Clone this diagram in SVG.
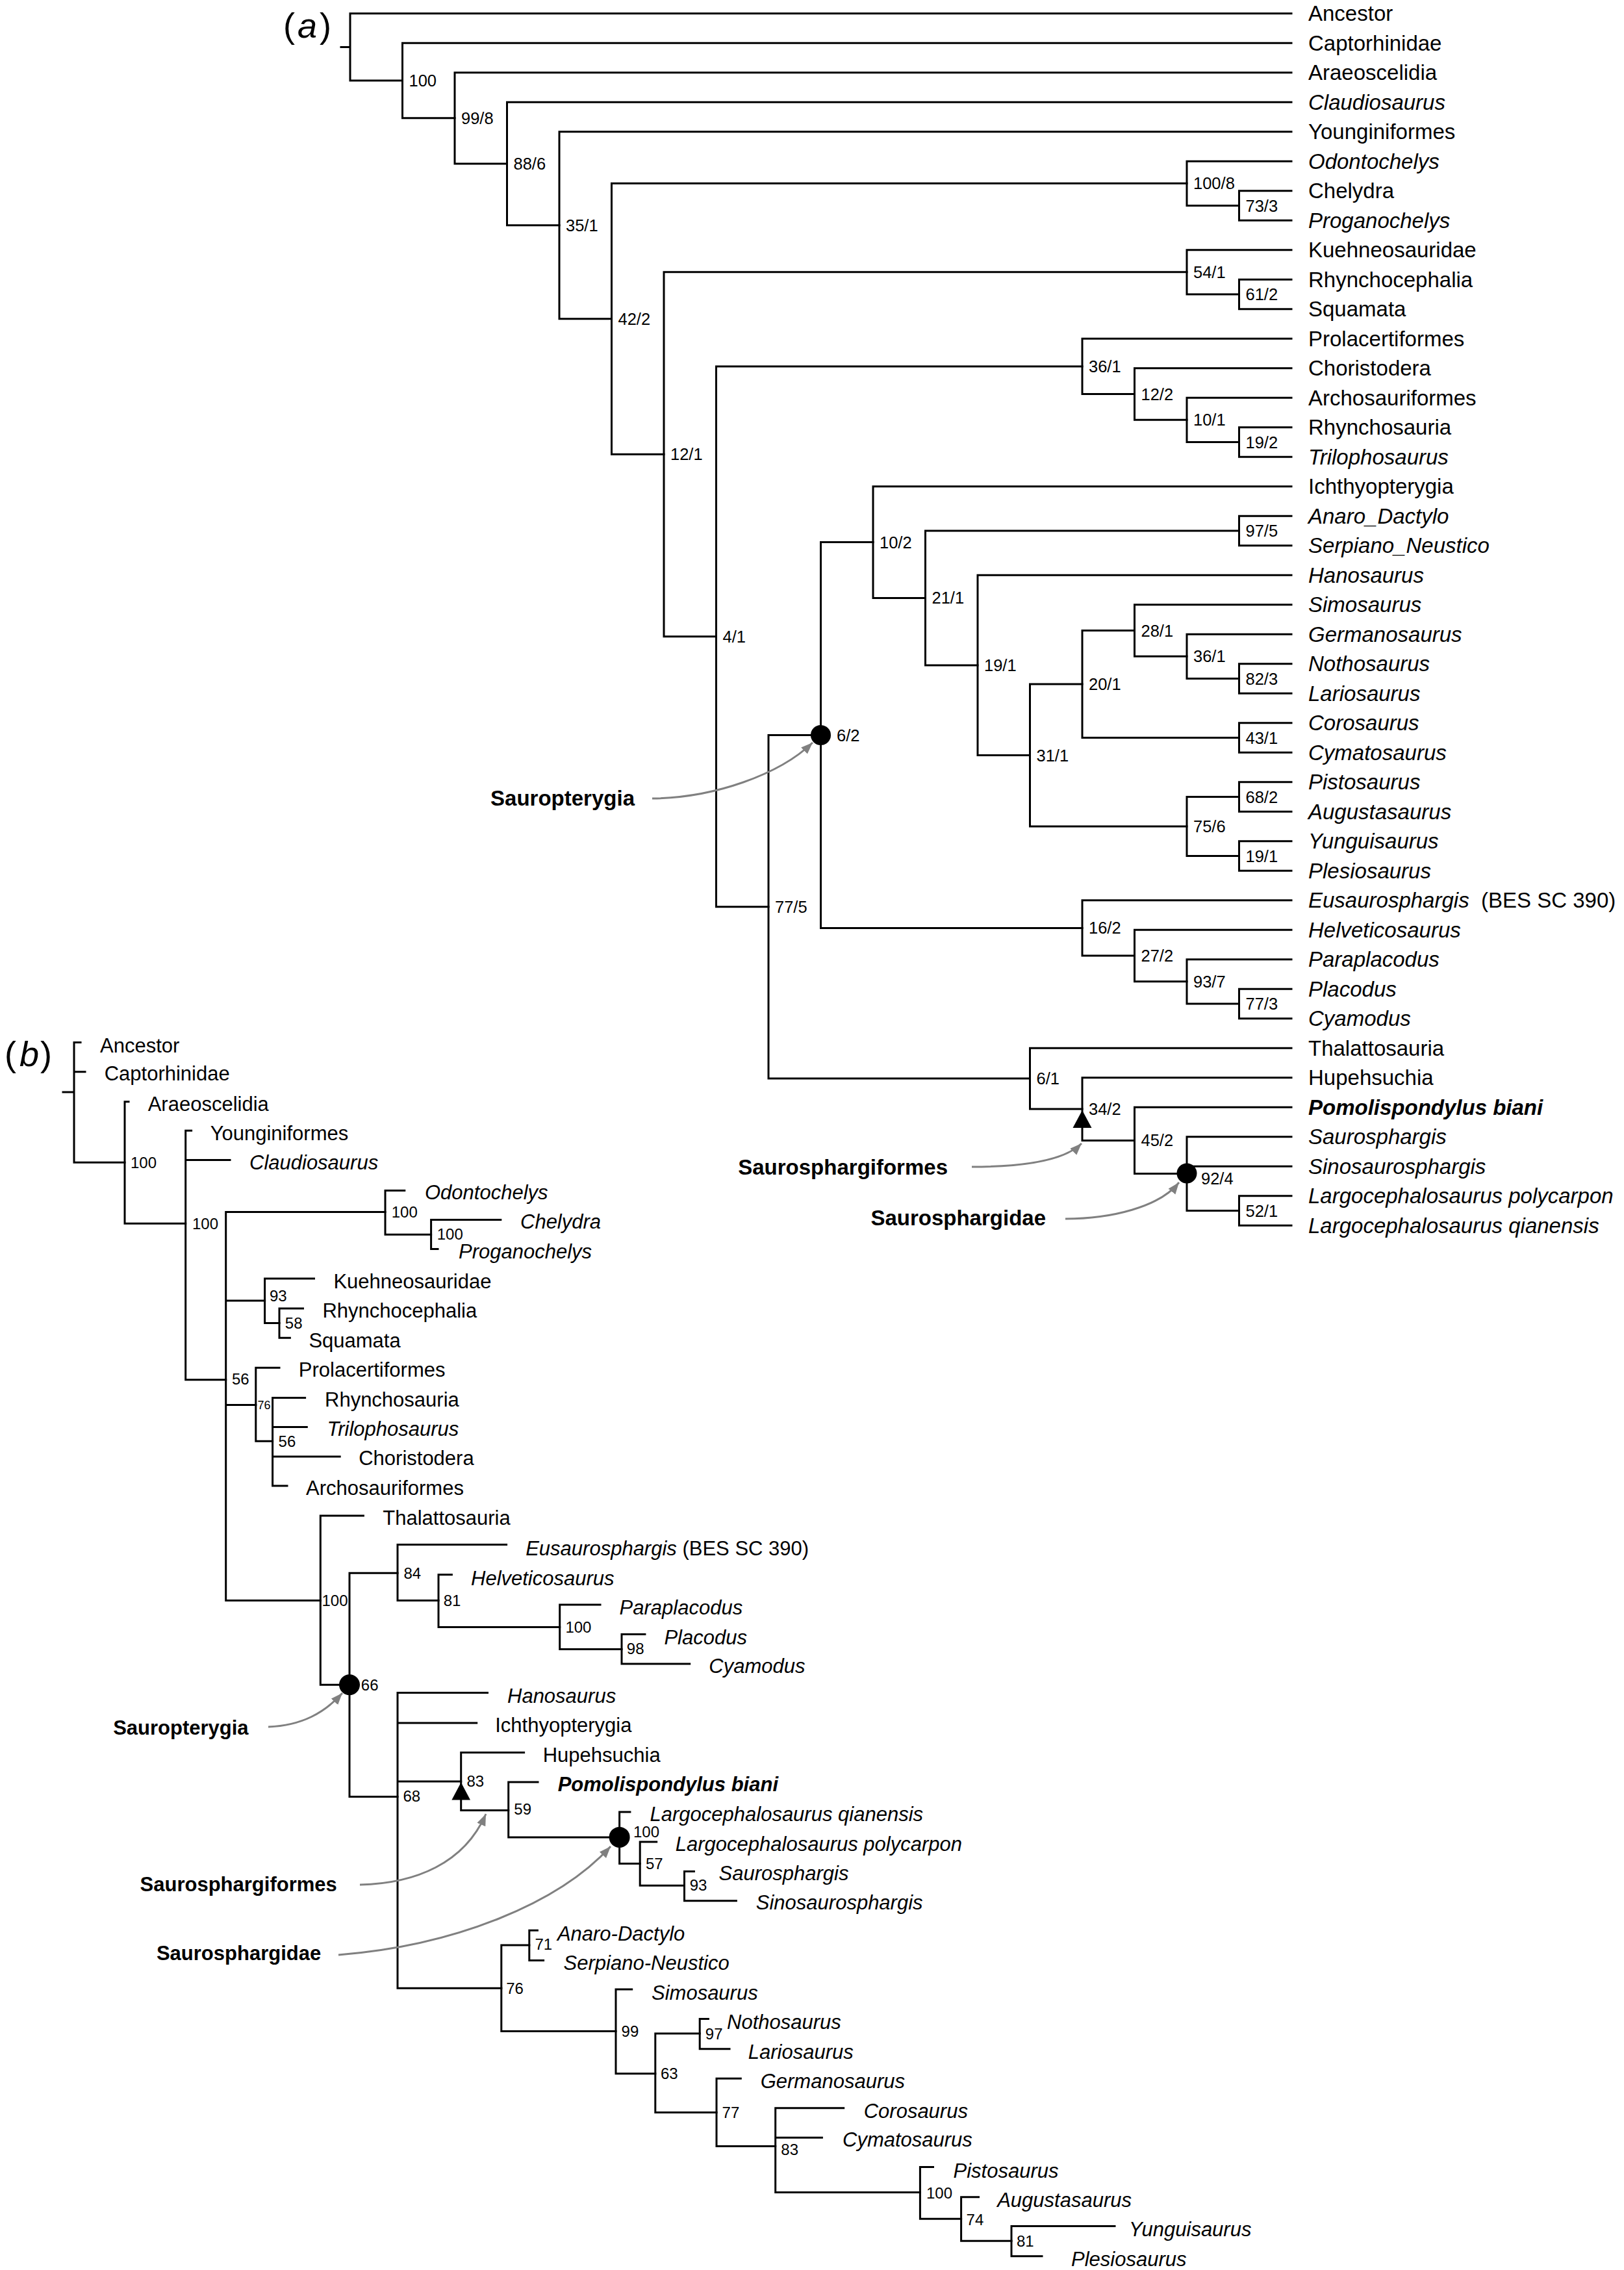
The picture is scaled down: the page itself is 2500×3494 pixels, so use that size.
<svg xmlns="http://www.w3.org/2000/svg" width="2500" height="3494" viewBox="0 0 2500 3494">
<style>
.ln{stroke:#000;stroke-width:3;fill:none;stroke-linecap:square}
.ar{stroke:#808080;stroke-width:3;fill:none}
text{font-family:"Liberation Sans",Arial,sans-serif;fill:#000}
.la{font-size:33px}
.lb{font-size:31px}
.it{font-style:italic}
.na{font-size:25.5px}
.nb{font-size:24px}
.cl{font-weight:bold}
.pl{font-size:54px}
</style>
<defs>
<marker id="ah" markerUnits="userSpaceOnUse" markerWidth="20" markerHeight="16" refX="18" refY="7" orient="auto"><path d="M0,0 L18,7 L0,14 z" fill="#808080"/></marker>
</defs>
<rect width="2500" height="3494" fill="#fff"/>

<g id="panel-labels">
<text class="pl" x="436" y="58">(<tspan x="458" font-style="italic">a</tspan><tspan x="492">)</tspan></text>
<text class="pl" x="7" y="1641">(<tspan x="30" font-style="italic">b</tspan><tspan x="62">)</tspan></text>
</g>

<g id="connectors-a">
<path class="ln" d="M525,72.4 H539 M539,20.7 V124 M539,20.7 H1988 M539,124 H619.5"/>
<path class="ln" d="M619.5,66.2 V181.8 M619.5,66.2 H1988 M619.5,181.8 H700"/>
<path class="ln" d="M700,111.7 V252 M700,111.7 H1988 M700,252 H780.5"/>
<path class="ln" d="M780.5,157.2 V346.8 M780.5,157.2 H1988 M780.5,346.8 H861"/>
<path class="ln" d="M861,202.7 V490.8 M861,202.7 H1988 M861,490.8 H941.5"/>
<path class="ln" d="M941.5,282.3 V699.3 M941.5,282.3 H1827 M941.5,699.3 H1022"/>
<path class="ln" d="M1827,248.2 V316.5 M1827,248.2 H1988 M1827,316.5 H1907.5"/>
<path class="ln" d="M1907.5,293.7 V339.2 M1907.5,293.7 H1988 M1907.5,339.2 H1988"/>
<path class="ln" d="M1022,418.8 V979.8 M1022,418.8 H1827 M1022,979.8 H1102.5"/>
<path class="ln" d="M1827,384.7 V453 M1827,384.7 H1988 M1827,453 H1907.5"/>
<path class="ln" d="M1907.5,430.2 V475.7 M1907.5,430.2 H1988 M1907.5,475.7 H1988"/>
<path class="ln" d="M1102.5,563.9 V1395.8 M1102.5,563.9 H1666 M1102.5,1395.8 H1183"/>
<path class="ln" d="M1666,521.2 V606.5 M1666,521.2 H1988 M1666,606.5 H1746.5"/>
<path class="ln" d="M1746.5,566.7 V646.3 M1746.5,566.7 H1988 M1746.5,646.3 H1827"/>
<path class="ln" d="M1827,612.2 V680.5 M1827,612.2 H1988 M1827,680.5 H1907.5"/>
<path class="ln" d="M1907.5,657.7 V703.2 M1907.5,657.7 H1988 M1907.5,703.2 H1988"/>
<path class="ln" d="M1183,1131.5 V1660.1 M1183,1131.5 H1263.5 M1183,1660.1 H1585.5"/>
<path class="ln" d="M1263.5,834.6 V1428.4 M1263.5,834.6 H1344 M1263.5,1428.4 H1666"/>
<path class="ln" d="M1344,748.7 V920.4 M1344,748.7 H1988 M1344,920.4 H1424.5"/>
<path class="ln" d="M1424.5,817 V1023.9 M1424.5,817 H1907.5 M1424.5,1023.9 H1505"/>
<path class="ln" d="M1907.5,794.2 V839.7 M1907.5,794.2 H1988 M1907.5,839.7 H1988"/>
<path class="ln" d="M1505,885.2 V1162.5 M1505,885.2 H1988 M1505,1162.5 H1585.5"/>
<path class="ln" d="M1585.5,1053 V1272 M1585.5,1053 H1666 M1585.5,1272 H1827"/>
<path class="ln" d="M1666,970.5 V1135.5 M1666,970.5 H1746.5 M1666,1135.5 H1907.5"/>
<path class="ln" d="M1746.5,930.7 V1010.3 M1746.5,930.7 H1988 M1746.5,1010.3 H1827"/>
<path class="ln" d="M1827,976.2 V1044.5 M1827,976.2 H1988 M1827,1044.5 H1907.5"/>
<path class="ln" d="M1907.5,1021.7 V1067.2 M1907.5,1021.7 H1988 M1907.5,1067.2 H1988"/>
<path class="ln" d="M1907.5,1112.7 V1158.2 M1907.5,1112.7 H1988 M1907.5,1158.2 H1988"/>
<path class="ln" d="M1827,1226.5 V1317.5 M1827,1226.5 H1907.5 M1827,1317.5 H1907.5"/>
<path class="ln" d="M1907.5,1203.7 V1249.2 M1907.5,1203.7 H1988 M1907.5,1249.2 H1988"/>
<path class="ln" d="M1907.5,1294.7 V1340.2 M1907.5,1294.7 H1988 M1907.5,1340.2 H1988"/>
<path class="ln" d="M1666,1385.7 V1471 M1666,1385.7 H1988 M1666,1471 H1746.5"/>
<path class="ln" d="M1746.5,1431.2 V1510.8 M1746.5,1431.2 H1988 M1746.5,1510.8 H1827"/>
<path class="ln" d="M1827,1476.7 V1545 M1827,1476.7 H1988 M1827,1545 H1907.5"/>
<path class="ln" d="M1907.5,1522.2 V1567.7 M1907.5,1522.2 H1988 M1907.5,1567.7 H1988"/>
<path class="ln" d="M1585.5,1613.2 V1707 M1585.5,1613.2 H1988 M1585.5,1707 H1666"/>
<path class="ln" d="M1666,1658.7 V1755.4 M1666,1658.7 H1988 M1666,1755.4 H1746.5"/>
<path class="ln" d="M1746.5,1704.2 V1806.6 M1746.5,1704.2 H1988 M1746.5,1806.6 H1827"/>
<path class="ln" d="M1827,1749.7 V1863.5 M1827,1749.7 H1988 M1827,1795.2 H1988 M1827,1863.5 H1907.5"/>
<path class="ln" d="M1907.5,1840.7 V1886.2 M1907.5,1840.7 H1988 M1907.5,1886.2 H1988"/>
<path class="ar" marker-end="url(#ah)" d="M1004,1229 C1100,1228 1200,1192 1251,1143"/>
<path class="ar" marker-end="url(#ah)" d="M1496,1796 C1580,1796 1640,1785 1665,1760"/>
<path class="ar" marker-end="url(#ah)" d="M1640,1876 C1710,1876 1785,1858 1815,1820"/>
</g>

<g id="nodes-a-internal">
<g id="a-n100"><text class="na" x="629.5" y="133">100</text></g>
<g id="a-n99-8"><text class="na" x="710" y="190.8">99/8</text></g>
<g id="a-n88-6"><text class="na" x="790.5" y="261">88/6</text></g>
<g id="a-n35-1"><text class="na" x="871" y="355.8">35/1</text></g>
<g id="a-n42-2"><text class="na" x="951.5" y="499.8">42/2</text></g>
<g id="a-n12-1"><text class="na" x="1032" y="708.3">12/1</text></g>
<g id="a-n4-1"><text class="na" x="1112.5" y="988.8">4/1</text></g>
<g id="a-n77-5"><text class="na" x="1193" y="1404.8">77/5</text></g>
<g id="a-n6-2"><circle cx="1263.5" cy="1131.5" r="15.5"/><text class="na" x="1288" y="1140.5">6/2</text></g>
<g id="a-n10-2"><text class="na" x="1354" y="843.6">10/2</text></g>
<g id="a-n21-1"><text class="na" x="1434.5" y="929.4">21/1</text></g>
<g id="a-n19-1"><text class="na" x="1515" y="1032.9">19/1</text></g>
<g id="a-n31-1"><text class="na" x="1595.5" y="1171.5">31/1</text></g>
<g id="a-n20-1"><text class="na" x="1676" y="1062">20/1</text></g>
<g id="a-n28-1"><text class="na" x="1756.5" y="979.5">28/1</text></g>
<g id="a-n36-1b"><text class="na" x="1837" y="1019.3">36/1</text></g>
<g id="a-n82-3"><text class="na" x="1917.5" y="1053.5">82/3</text></g>
<g id="a-n43-1"><text class="na" x="1917.5" y="1144.5">43/1</text></g>
<g id="a-n75-6"><text class="na" x="1837" y="1281">75/6</text></g>
<g id="a-n68-2"><text class="na" x="1917.5" y="1235.5">68/2</text></g>
<g id="a-n19-1b"><text class="na" x="1917.5" y="1326.5">19/1</text></g>
<g id="a-n97-5"><text class="na" x="1917.5" y="826">97/5</text></g>
<g id="a-n100-8"><text class="na" x="1837" y="291.3">100/8</text></g>
<g id="a-n73-3"><text class="na" x="1917.5" y="325.5">73/3</text></g>
<g id="a-n54-1"><text class="na" x="1837" y="427.8">54/1</text></g>
<g id="a-n61-2"><text class="na" x="1917.5" y="462">61/2</text></g>
<g id="a-n36-1"><text class="na" x="1676" y="572.9">36/1</text></g>
<g id="a-n12-2"><text class="na" x="1756.5" y="615.5">12/2</text></g>
<g id="a-n10-1"><text class="na" x="1837" y="655.3">10/1</text></g>
<g id="a-n19-2"><text class="na" x="1917.5" y="689.5">19/2</text></g>
<g id="a-n16-2"><text class="na" x="1676" y="1437.4">16/2</text></g>
<g id="a-n27-2"><text class="na" x="1756.5" y="1480">27/2</text></g>
<g id="a-n93-7"><text class="na" x="1837" y="1519.8">93/7</text></g>
<g id="a-n77-3"><text class="na" x="1917.5" y="1554">77/3</text></g>
<g id="a-n6-1"><text class="na" x="1595.5" y="1669.1">6/1</text></g>
<g id="a-n34-2"><path d="M1666,1709 L1680.5,1736 L1651.5,1736 Z" fill="#000"/><text class="na" x="1676" y="1716">34/2</text></g>
<g id="a-n45-2"><text class="na" x="1756.5" y="1764.4">45/2</text></g>
<g id="a-n92-4"><circle cx="1827" cy="1806" r="15.5"/><text class="na" x="1849" y="1823">92/4</text></g>
<g id="a-n52-1"><text class="na" x="1917.5" y="1872.5">52/1</text></g>
<g id="a-clade-sauropterygia"><text class="la cl" x="977" y="1240" text-anchor="end">Sauropterygia</text></g>
<g id="a-clade-saurosphargiformes"><text class="la cl" x="1459" y="1808" text-anchor="end">Saurosphargiformes</text></g>
<g id="a-clade-saurosphargidae"><text class="la cl" x="1610" y="1886" text-anchor="end">Saurosphargidae</text></g>
</g>

<g id="nodes-a-taxa">
<g id="a-t0"><text class="la" x="2014" y="32.2">Ancestor</text></g>
<g id="a-t1"><text class="la" x="2014" y="77.7">Captorhinidae</text></g>
<g id="a-t2"><text class="la" x="2014" y="123.2">Araeoscelidia</text></g>
<g id="a-t3"><text class="la it" x="2014" y="168.7">Claudiosaurus</text></g>
<g id="a-t4"><text class="la" x="2014" y="214.2">Younginiformes</text></g>
<g id="a-t5"><text class="la it" x="2014" y="259.7">Odontochelys</text></g>
<g id="a-t6"><text class="la" x="2014" y="305.2">Chelydra</text></g>
<g id="a-t7"><text class="la it" x="2014" y="350.7">Proganochelys</text></g>
<g id="a-t8"><text class="la" x="2014" y="396.2">Kuehneosauridae</text></g>
<g id="a-t9"><text class="la" x="2014" y="441.7">Rhynchocephalia</text></g>
<g id="a-t10"><text class="la" x="2014" y="487.2">Squamata</text></g>
<g id="a-t11"><text class="la" x="2014" y="532.7">Prolacertiformes</text></g>
<g id="a-t12"><text class="la" x="2014" y="578.2">Choristodera</text></g>
<g id="a-t13"><text class="la" x="2014" y="623.7">Archosauriformes</text></g>
<g id="a-t14"><text class="la" x="2014" y="669.2">Rhynchosauria</text></g>
<g id="a-t15"><text class="la it" x="2014" y="714.7">Trilophosaurus</text></g>
<g id="a-t16"><text class="la" x="2014" y="760.2">Ichthyopterygia</text></g>
<g id="a-t17"><text class="la it" x="2014" y="805.7">Anaro_Dactylo</text></g>
<g id="a-t18"><text class="la it" x="2014" y="851.2">Serpiano_Neustico</text></g>
<g id="a-t19"><text class="la it" x="2014" y="896.7">Hanosaurus</text></g>
<g id="a-t20"><text class="la it" x="2014" y="942.2">Simosaurus</text></g>
<g id="a-t21"><text class="la it" x="2014" y="987.7">Germanosaurus</text></g>
<g id="a-t22"><text class="la it" x="2014" y="1033.2">Nothosaurus</text></g>
<g id="a-t23"><text class="la it" x="2014" y="1078.7">Lariosaurus</text></g>
<g id="a-t24"><text class="la it" x="2014" y="1124.2">Corosaurus</text></g>
<g id="a-t25"><text class="la it" x="2014" y="1169.7">Cymatosaurus</text></g>
<g id="a-t26"><text class="la it" x="2014" y="1215.2">Pistosaurus</text></g>
<g id="a-t27"><text class="la it" x="2014" y="1260.7">Augustasaurus</text></g>
<g id="a-t28"><text class="la it" x="2014" y="1306.2">Yunguisaurus</text></g>
<g id="a-t29"><text class="la it" x="2014" y="1351.7">Plesiosaurus</text></g>
<g id="a-t30"><text class="la" x="2014" y="1397.2"><tspan font-style="italic">Eusaurosphargis</tspan><tspan x="2280">(BES SC 390)</tspan></text></g>
<g id="a-t31"><text class="la it" x="2014" y="1442.7">Helveticosaurus</text></g>
<g id="a-t32"><text class="la it" x="2014" y="1488.2">Paraplacodus</text></g>
<g id="a-t33"><text class="la it" x="2014" y="1533.7">Placodus</text></g>
<g id="a-t34"><text class="la it" x="2014" y="1579.2">Cyamodus</text></g>
<g id="a-t35"><text class="la" x="2014" y="1624.7">Thalattosauria</text></g>
<g id="a-t36"><text class="la" x="2014" y="1670.2">Hupehsuchia</text></g>
<g id="a-t37"><text class="la it cl" x="2014" y="1715.7">Pomolispondylus biani</text></g>
<g id="a-t38"><text class="la it" x="2014" y="1761.2">Saurosphargis</text></g>
<g id="a-t39"><text class="la it" x="2014" y="1806.7">Sinosaurosphargis</text></g>
<g id="a-t40"><text class="la it" x="2014" y="1852.2">Largocephalosaurus polycarpon</text></g>
<g id="a-t41"><text class="la it" x="2014" y="1897.7">Largocephalosaurus qianensis</text></g>
</g>

<g id="connectors-b">
<path class="ln" d="M97,1681 H114 M114,1604.6 V1789.3 M114,1604.6 H124 M114,1649.7 H131 M114,1789.3 H192"/>
<path class="ln" d="M192,1695.7 V1883.3 M192,1695.7 H198 M192,1883.3 H285.7"/>
<path class="ln" d="M285.7,1740.3 V2123.8 M285.7,1740.3 H294.6 M285.7,1785.4 H354 M285.7,2123.8 H347.7"/>
<path class="ln" d="M347.7,1865.4 V2463.4 M347.7,1865.4 H593 M347.7,2002 H407.6 M347.7,2162.5 H393.8 M347.7,2463.4 H493.3"/>
<path class="ln" d="M593,1832.4 V1900.3 M593,1832.4 H622.8 M593,1900.3 H663.6"/>
<path class="ln" d="M663.6,1877.5 V1922.6 M663.6,1877.5 H770.8 M663.6,1922.6 H674"/>
<path class="ln" d="M407.6,1968 V2036.5 M407.6,1968 H483.5 M407.6,2036.5 H430"/>
<path class="ln" d="M430,2014 V2059.3 M430,2014 H466.5 M430,2059.3 H446.4"/>
<path class="ln" d="M393.8,2105.3 V2218.3 M393.8,2105.3 H430 M393.8,2218.3 H419.6"/>
<path class="ln" d="M419.6,2151.4 V2287 M419.6,2151.4 H469.6 M419.6,2196.5 H472.3 M419.6,2242 H523.2 M419.6,2287 H442"/>
<path class="ln" d="M493.3,2333 V2593.3 M493.3,2333 H559.4 M493.3,2593.3 H538"/>
<path class="ln" d="M538,2421.2 V2765.4 M538,2421.2 H612 M538,2765.4 H612"/>
<path class="ln" d="M612,2377.6 V2463.5 M612,2377.6 H779.6 M612,2463.5 H675"/>
<path class="ln" d="M675,2423.8 V2504.4 M675,2423.8 H695.4 M675,2504.4 H861.7"/>
<path class="ln" d="M861.7,2470 V2538.4 M861.7,2470 H924 M861.7,2538.4 H957"/>
<path class="ln" d="M957,2515.5 V2561 M957,2515.5 H992.9 M957,2561 H1061.7"/>
<path class="ln" d="M612,2605.6 V3060.2 M612,2605.6 H750.5 M612,2652 H733.7 M612,2742 H709.7 M612,3060.2 H771.8"/>
<path class="ln" d="M709.7,2697.4 V2786.4 M709.7,2697.4 H806.6 M709.7,2786.4 H782.7"/>
<path class="ln" d="M782.7,2742.9 V2827.9 M782.7,2742.9 H828 M782.7,2827.9 H953.6"/>
<path class="ln" d="M953.6,2789 V2868.6 M953.6,2789 H969.9 M953.6,2868.6 H985.2"/>
<path class="ln" d="M985.2,2835 V2902.2 M985.2,2835 H1010.7 M985.2,2902.2 H1053.5"/>
<path class="ln" d="M1053.5,2880.5 V2925.8 M1053.5,2880.5 H1068.4 M1053.5,2925.8 H1133.4"/>
<path class="ln" d="M771.8,2993.9 V3126.5 M771.8,2993.9 H814.8 M771.8,3126.5 H948"/>
<path class="ln" d="M814.8,2971.2 V3017.4 M814.8,2971.2 H827.4 M814.8,3017.4 H836.6"/>
<path class="ln" d="M948,3062 V3191.7 M948,3062 H972.7 M948,3191.7 H1008.8"/>
<path class="ln" d="M1008.8,3129.9 V3251.5 M1008.8,3129.9 H1077.2 M1008.8,3251.5 H1103"/>
<path class="ln" d="M1077.2,3107.6 V3153.8 M1077.2,3107.6 H1090.4 M1077.2,3153.8 H1123"/>
<path class="ln" d="M1103,3199.2 V3303.4 M1103,3199.2 H1140.3 M1103,3303.4 H1193.7"/>
<path class="ln" d="M1193.7,3244.7 V3374.6 M1193.7,3244.7 H1298.7 M1193.7,3290.2 H1265.4 M1193.7,3374.6 H1416.4"/>
<path class="ln" d="M1416.4,3335.6 V3415.2 M1416.4,3335.6 H1436.5 M1416.4,3415.2 H1479.6"/>
<path class="ln" d="M1479.6,3381.8 V3449.2 M1479.6,3381.8 H1506.5 M1479.6,3449.2 H1557"/>
<path class="ln" d="M1557,3426.5 V3472.7 M1557,3426.5 H1716 M1557,3472.7 H1604"/>
<path class="ar" marker-end="url(#ah)" d="M413,2658 C465,2656 500,2636 527,2606"/>
<path class="ar" marker-end="url(#ah)" d="M554,2901 C640,2899 715,2868 748,2792"/>
<path class="ar" marker-end="url(#ah)" d="M521,3009 C700,2995 860,2930 940,2842"/>
</g>

<g id="nodes-b-internal">
<g id="b-n100a"><text class="nb" x="201" y="1798">100</text></g>
<g id="b-n100b"><text class="nb" x="296" y="1892">100</text></g>
<g id="b-n56"><text class="nb" x="357" y="2130.6">56</text></g>
<g id="b-n100t"><text class="nb" x="602.7" y="1874">100</text></g>
<g id="b-n100c"><text class="nb" x="672.7" y="1908">100</text></g>
<g id="b-n93"><text class="nb" x="415" y="2003.4">93</text></g>
<g id="b-n58"><text class="nb" x="438.8" y="2045">58</text></g>
<g id="b-n76a"><text font-size="18" x="396.4" y="2169">76</text></g>
<g id="b-n56b"><text class="nb" x="428.6" y="2227">56</text></g>
<g id="b-n100d"><text class="nb" x="495.5" y="2472">100</text></g>
<g id="b-n66"><circle cx="538" cy="2593.3" r="16"/><text class="nb" x="555.8" y="2602">66</text></g>
<g id="b-n84"><text class="nb" x="621.4" y="2429.8">84</text></g>
<g id="b-n81"><text class="nb" x="682.7" y="2472">81</text></g>
<g id="b-n100e"><text class="nb" x="870.4" y="2513">100</text></g>
<g id="b-n98"><text class="nb" x="964.8" y="2545.6">98</text></g>
<g id="b-n68"><text class="nb" x="620.4" y="2773.2">68</text></g>
<g id="b-n83"><path d="M709.7,2743.6 L724,2770.5 L695.4,2770.5 Z" fill="#000"/><text class="nb" x="718.4" y="2749.6">83</text></g>
<g id="b-n59"><text class="nb" x="791.3" y="2793">59</text></g>
<g id="b-n100f"><circle cx="953.6" cy="2827.9" r="16"/><text class="nb" x="975" y="2827.6">100</text></g>
<g id="b-n57"><text class="nb" x="993.9" y="2877.2">57</text></g>
<g id="b-n93b"><text class="nb" x="1061.7" y="2909.6">93</text></g>
<g id="b-n71"><text class="nb" x="823.4" y="3001.4">71</text></g>
<g id="b-n76b"><text class="nb" x="779.2" y="3068.8">76</text></g>
<g id="b-n99"><text class="nb" x="956.6" y="3135">99</text></g>
<g id="b-n97"><text class="nb" x="1085.8" y="3139">97</text></g>
<g id="b-n63"><text class="nb" x="1016.9" y="3199.6">63</text></g>
<g id="b-n77"><text class="nb" x="1111.6" y="3260">77</text></g>
<g id="b-n83b"><text class="nb" x="1202.3" y="3317">83</text></g>
<g id="b-n100g"><text class="nb" x="1426" y="3384">100</text></g>
<g id="b-n74"><text class="nb" x="1487.6" y="3424.6">74</text></g>
<g id="b-n81b"><text class="nb" x="1565" y="3458">81</text></g>
<g id="b-clade-sauropterygia"><text class="lb cl" x="382.6" y="2670" text-anchor="end">Sauropterygia</text></g>
<g id="b-clade-saurosphargiformes"><text class="lb cl" x="518.8" y="2911" text-anchor="end">Saurosphargiformes</text></g>
<g id="b-clade-saurosphargidae"><text class="lb cl" x="494.2" y="3017" text-anchor="end">Saurosphargidae</text></g>
</g>

<g id="nodes-b-taxa">
<g id="b-t-ancestor"><text class="lb" x="154" y="1619.5">Ancestor</text></g>
<g id="b-t-captorhinidae"><text class="lb" x="160.7" y="1663">Captorhinidae</text></g>
<g id="b-t-araeoscelidia"><text class="lb" x="227.7" y="1710">Araeoscelidia</text></g>
<g id="b-t-younginiformes"><text class="lb" x="323.7" y="1755">Younginiformes</text></g>
<g id="b-t-claudiosaurus"><text class="lb it" x="384" y="1800">Claudiosaurus</text></g>
<g id="b-t-odontochelys"><text class="lb it" x="654" y="1846.3">Odontochelys</text></g>
<g id="b-t-chelydra"><text class="lb it" x="801" y="1891">Chelydra</text></g>
<g id="b-t-proganochelys"><text class="lb it" x="706" y="1937">Proganochelys</text></g>
<g id="b-t-kuehneosauridae"><text class="lb" x="513.4" y="1983">Kuehneosauridae</text></g>
<g id="b-t-rhynchocephalia"><text class="lb" x="496.4" y="2028">Rhynchocephalia</text></g>
<g id="b-t-squamata"><text class="lb" x="475.4" y="2073.7">Squamata</text></g>
<g id="b-t-prolacertiformes"><text class="lb" x="459.8" y="2118.7">Prolacertiformes</text></g>
<g id="b-t-rhynchosauria"><text class="lb" x="500" y="2164.8">Rhynchosauria</text></g>
<g id="b-t-trilophosaurus"><text class="lb it" x="503.6" y="2210">Trilophosaurus</text></g>
<g id="b-t-choristodera"><text class="lb" x="552.2" y="2255.4">Choristodera</text></g>
<g id="b-t-archosauriformes"><text class="lb" x="471" y="2300.5">Archosauriformes</text></g>
<g id="b-t-thalattosauria"><text class="lb" x="589.3" y="2347.4">Thalattosauria</text></g>
<g id="b-t-eusaurosphargis"><text class="lb" x="809.2" y="2394"><tspan font-style="italic">Eusaurosphargis</tspan> (BES SC 390)</text></g>
<g id="b-t-helveticosaurus"><text class="lb it" x="725" y="2439.5">Helveticosaurus</text></g>
<g id="b-t-paraplacodus"><text class="lb it" x="953.6" y="2485">Paraplacodus</text></g>
<g id="b-t-placodus"><text class="lb it" x="1022.4" y="2530.5">Placodus</text></g>
<g id="b-t-cyamodus"><text class="lb it" x="1091.3" y="2575">Cyamodus</text></g>
<g id="b-t-hanosaurus"><text class="lb it" x="781" y="2621.4">Hanosaurus</text></g>
<g id="b-t-ichthyopterygia"><text class="lb" x="762.2" y="2666">Ichthyopterygia</text></g>
<g id="b-t-hupehsuchia"><text class="lb" x="835.7" y="2712.3">Hupehsuchia</text></g>
<g id="b-t-pomolispondylus"><text class="lb it cl" x="858.7" y="2757">Pomolispondylus biani</text></g>
<g id="b-t-largo-q"><text class="lb it" x="1000.5" y="2803.3">Largocephalosaurus qianensis</text></g>
<g id="b-t-largo-p"><text class="lb it" x="1039.8" y="2848.8">Largocephalosaurus polycarpon</text></g>
<g id="b-t-saurosphargis"><text class="lb it" x="1106.6" y="2894.2">Saurosphargis</text></g>
<g id="b-t-sinosaurosphargis"><text class="lb it" x="1163.8" y="2939.4">Sinosaurosphargis</text></g>
<g id="b-t-anaro"><text class="lb it" x="857.9" y="2986.8">Anaro-Dactylo</text></g>
<g id="b-t-serpiano"><text class="lb it" x="867.6" y="3031.5">Serpiano-Neustico</text></g>
<g id="b-t-simosaurus"><text class="lb it" x="1003" y="3077.7">Simosaurus</text></g>
<g id="b-t-nothosaurus"><text class="lb it" x="1119" y="3123">Nothosaurus</text></g>
<g id="b-t-lariosaurus"><text class="lb it" x="1151.8" y="3168.6">Lariosaurus</text></g>
<g id="b-t-germanosaurus"><text class="lb it" x="1170.7" y="3214">Germanosaurus</text></g>
<g id="b-t-corosaurus"><text class="lb it" x="1329.7" y="3259.5">Corosaurus</text></g>
<g id="b-t-cymatosaurus"><text class="lb it" x="1297" y="3303.8">Cymatosaurus</text></g>
<g id="b-t-pistosaurus"><text class="lb it" x="1467.5" y="3352.3">Pistosaurus</text></g>
<g id="b-t-augustasaurus"><text class="lb it" x="1535.2" y="3397">Augustasaurus</text></g>
<g id="b-t-yunguisaurus"><text class="lb it" x="1738" y="3442">Yunguisaurus</text></g>
<g id="b-t-plesiosaurus"><text class="lb it" x="1649" y="3488">Plesiosaurus</text></g>
</g>
</svg>
